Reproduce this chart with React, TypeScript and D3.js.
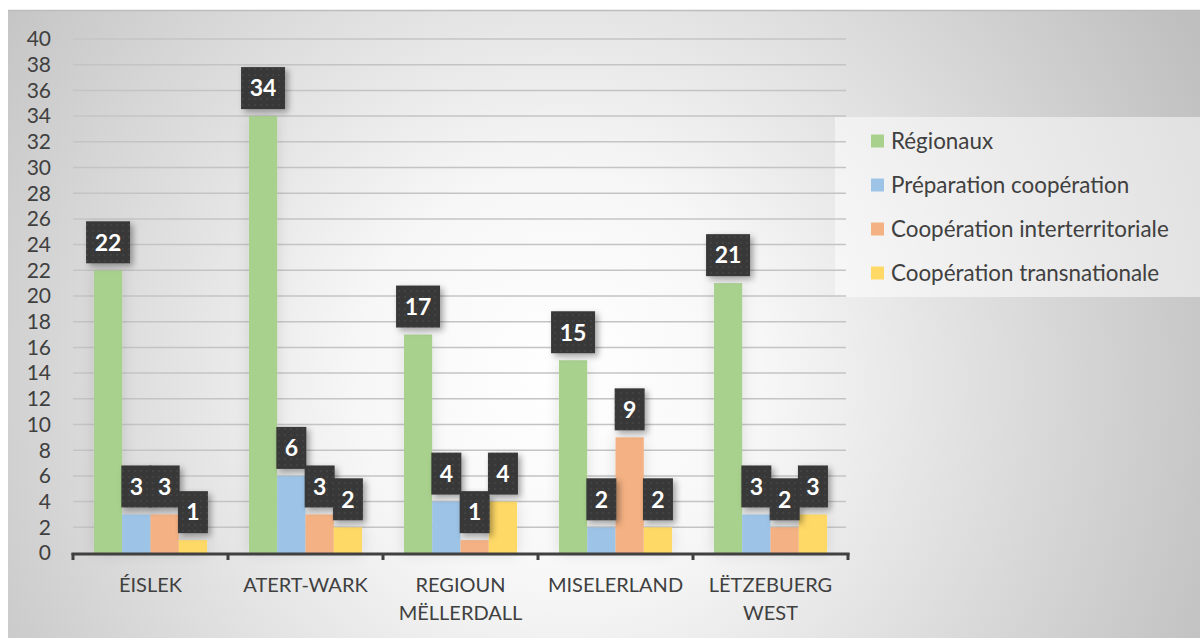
import * as d3 from 'd3';

const categories = [['ÉISLEK'], ['ATERT-WARK'], ['REGIOUN', 'MËLLERDALL'], ['MISELERLAND'], ['LËTZEBUERG', 'WEST']];
const seriesNames = ['Régionaux', 'Préparation coopération', 'Coopération interterritoriale', 'Coopération transnationale'];
const seriesColors = ['#a9d18e', '#9dc3e6', '#f4b183', '#ffd966'];
const regionaux = [22, 34, 17, 15, 21];
const preparation = [3, 6, 4, 2, 3];
const interterritoriale = [3, 3, 1, 9, 2];
const transnationale = [1, 2, 4, 2, 3];
const yTicks = [0, 2, 4, 6, 8, 10, 12, 14, 16, 18, 20, 22, 24, 26, 28, 30, 32, 34, 36, 38, 40];

const series = [regionaux, preparation, interterritoriale, transnationale];
const FONT = 'Lato, "Open Sans", sans-serif';

export default function App() {
  const width = 1200;
  const height = 638;
  const plot = { left: 73, right: 848, top: 39, bottom: 553 };

  const x0 = d3
    .scaleBand<number>()
    .domain(d3.range(categories.length))
    .range([plot.left, plot.right])
    .paddingInner(0.27)
    .paddingOuter(0.135);
  const x1 = d3.scaleBand<number>().domain(d3.range(series.length)).range([0, x0.bandwidth()]);
  const y = d3.scaleLinear().domain([0, 40]).range([plot.bottom, plot.top]);
  const step = (plot.right - plot.left) / categories.length;
  const boundaries = d3.range(categories.length + 1).map((i) => plot.left + i * step);

  // label boxes drawn after all bars
  const labels: Array<{ cx: number; top: number; text: string }> = [];
  series.forEach((vals, si) =>
    vals.forEach((v, ci) => {
      labels.push({ cx: (x0(ci) || 0) + (x1(si) || 0) + x1.bandwidth() / 2, top: y(v), text: String(v) });
    })
  );

  return (
    <svg width={width} height={height} style={{ position: 'absolute', left: 0, top: 0 }} fontFamily={FONT}>
      <defs>
        <radialGradient id="bg" gradientUnits="userSpaceOnUse" cx={560} cy={380} r={720}>
          <stop offset="0" stopColor="#ffffff" />
          <stop offset="0.28" stopColor="#f7f7f7" />
          <stop offset="1" stopColor="#bfbfbf" />
        </radialGradient>
        <pattern id="dots" width={6} height={6} patternUnits="userSpaceOnUse">
          <rect width={6} height={6} fill="#383838" />
          <circle cx={3} cy={3} r={0.8} fill="#515151" />
        </pattern>
        <filter id="boxShadow" x="-50%" y="-50%" width="200%" height="200%">
          <feDropShadow dx={3} dy={3} stdDeviation={3} floodColor="#000" floodOpacity={0.35} />
        </filter>
        <filter id="barGlow" x="-100%" y="-20%" width="300%" height="140%">
          <feDropShadow dx={0} dy={0} stdDeviation={7} floodColor="#000" floodOpacity={0.12} />
        </filter>
      </defs>

      <rect x={8} y={10} width={width - 8} height={height - 10} fill="url(#bg)" />
      <line x1={8} x2={width} y1={10.5} y2={10.5} stroke="#bdbdbd" strokeWidth={1.5} />

      {/* legend panel */}
      <rect x={835} y={117} width={365} height={180} fill="#ffffff" opacity={0.5} />

      {/* gridlines */}
      <g>
        {yTicks.filter((t) => t > 0).map((t) => (
          <line key={t} x1={plot.left} x2={846} y1={y(t)} y2={y(t)} stroke="#c4c4c4" strokeWidth={1.5} />
        ))}
      </g>

      {/* y tick labels */}
      <g fontSize={21} fill="#404040" textAnchor="end">
        {yTicks.map((t) => (
          <text key={t} x={51} y={y(t)} dy="0.35em">
            {t}
          </text>
        ))}
      </g>

      {/* bars */}
      <g filter="url(#barGlow)">
        {series.map((vals, si) =>
          vals.map((v, ci) => (
            <rect
              key={`${si}-${ci}`}
              x={(x0(ci) || 0) + (x1(si) || 0)}
              y={y(v)}
              width={x1.bandwidth()}
              height={y(0) - y(v)}
              fill={seriesColors[si]}
            />
          ))
        )}
      </g>

      {/* x axis */}
      <line x1={plot.left - 1.5} x2={plot.right + 1.5} y1={plot.bottom + 1} y2={plot.bottom + 1} stroke="#404040" strokeWidth={3} />
      {boundaries.map((b, i) => (
        <line key={i} x1={b} x2={b} y1={plot.bottom} y2={plot.bottom + 7} stroke="#404040" strokeWidth={3} />
      ))}
      <g fontSize={20} fill="#404040" textAnchor="middle">
        {categories.map((lines, ci) => (
          <text key={ci} x={(x0(ci) || 0) + x0.bandwidth() / 2} y={592}>
            {lines.map((l, li) => (
              <tspan key={li} x={(x0(ci) || 0) + x0.bandwidth() / 2} dy={li === 0 ? 0 : 28}>
                {l}
              </tspan>
            ))}
          </text>
        ))}
      </g>

      {/* data labels */}
      <g>
        {labels.map((d, i) => {
          const w = d.text.length > 1 ? 44 : 30;
          const h = 42;
          return (
            <g key={i}>
              <rect x={d.cx - w / 2} y={d.top - 7 - h} width={w} height={h} fill="url(#dots)" filter="url(#boxShadow)" />
              <text
                x={d.cx}
                y={d.top - 7 - h / 2}
                dy="0.36em"
                textAnchor="middle"
                fill="#ffffff"
                fontWeight="bold"
                fontSize={23}
              >
                {d.text}
              </text>
            </g>
          );
        })}
      </g>

      {/* legend */}
      <g fontSize={22.4} fill="#404040">
        {seriesNames.map((name, i) => {
          const cy = 141 + i * 44;
          return (
            <g key={name}>
              <rect x={871} y={cy - 6.5} width={13} height={13} fill={seriesColors[i]} />
              <text x={891} y={cy} dy="0.35em">
                {name}
              </text>
            </g>
          );
        })}
      </g>
    </svg>
  );
}
